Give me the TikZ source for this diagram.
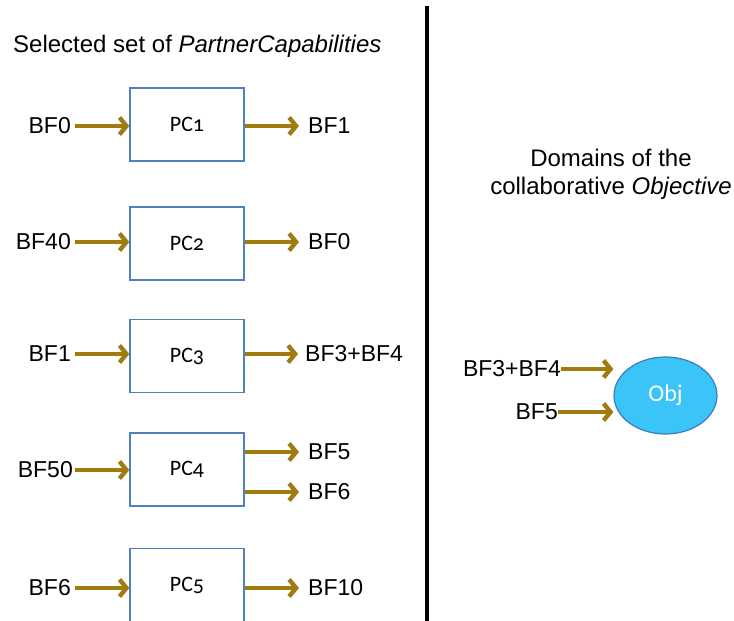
\documentclass[tikz,border=0pt]{standalone}
\usepackage{fontspec}
\setmainfont{Liberation Sans}
\newfontfamily\pcfont[Numbers=OldStyle]{Carlito}
\usetikzlibrary{arrows.meta,calc,shapes.geometric}
\definecolor{arrgold}{RGB}{160,124,14}
\definecolor{boxblue}{RGB}{79,129,189}
\definecolor{objfill}{RGB}{59,196,248}
\definecolor{objline}{RGB}{58,124,190}
\tikzset{
  arr/.style={draw=arrgold, line width=4.4pt, -{Straight Barb[length=7pt,width=17pt]}},
  pcbox/.style={draw=boxblue, line width=1.3pt, minimum width=114pt, minimum height=73pt, inner sep=0pt, font=\pcfont\fontsize{22}{26}\selectfont},
  lbl/.style={inner sep=2pt, font=\fontsize{23}{27}\selectfont},
  head/.style={inner sep=0pt, font=\fontsize{24}{28}\selectfont},
}
\begin{document}
\begin{tikzpicture}[x=1pt,y=-1pt]
\useasboundingbox (0,0) rectangle (734,621);
% headings
\node[head, anchor=west] (h1) at (13,46) {Selected set of \textit{PartnerCapabilities}};
\node[head, align=center] (h2) at (611,174) {Domains of the\\collaborative \textit{Objective}};
% divider
\coordinate (vtop) at (427,6);
\coordinate (vbot) at (427,621);
\draw[line width=3.5pt] (vtop) -- (vbot);
% boxes
\node[pcbox] (pc1) at (187,124.5) {PC1};
\node[pcbox] (pc2) at (187,243.5) {PC2};
\node[pcbox] (pc3) at (187,356) {PC3};
\node[pcbox] (pc4) at (187,469.5) {PC4};
\node[pcbox] (pc5) at (187,585) {PC5};
% inputs
\node[lbl, anchor=east] (i1) at (73,126) {BF0};
\node[lbl, anchor=east] (i2) at (73,242) {BF40};
\node[lbl, anchor=east] (i3) at (73,354) {BF1};
\node[lbl, anchor=east] (i4) at (75,470) {BF50};
\node[lbl, anchor=east] (i5) at (73,588) {BF6};
% outputs
\node[lbl, anchor=west] (o1) at (306,126) {BF1};
\node[lbl, anchor=west] (o2) at (306,242) {BF0};
\node[lbl, anchor=west] (o3) at (303,354) {BF3+BF4};
\node[lbl, anchor=west] (o4a) at (306,452) {BF5};
\node[lbl, anchor=west] (o4b) at (306,492) {BF6};
\node[lbl, anchor=west] (o5) at (306,588) {BF10};
% arrows in
\foreach \n in {1,...,5}{
  \draw[arr] (i\n.east -| 75,0) -- (i\n.east -| pc\n.west);
}
% arrows out
\draw[arr] (pc1.east |- o1.west) -- ($(o1.west)+(-7,0)$);
\draw[arr] (pc2.east |- o2.west) -- ($(o2.west)+(-7,0)$);
\draw[arr] (pc3.east |- o3.west) -- ($(o3.west)+(-5,0)$);
\draw[arr] (pc4.east |- o4a.west) -- ($(o4a.west)+(-7,0)$);
\draw[arr] (pc4.east |- o4b.west) -- ($(o4b.west)+(-7,0)$);
\draw[arr] (pc5.east |- o5.west) -- ($(o5.west)+(-7,0)$);
% objective
\node[draw=objline, fill=objfill, line width=1.2pt, ellipse, minimum width=103pt, minimum height=77pt, inner sep=0pt, text=white, font=\pcfont\fontsize{24}{28}\selectfont] (obj) at (665.5,395.5) {Obj};
\node[lbl, anchor=east, inner sep=0pt] (b34) at (561,369) {BF3+BF4};
\node[lbl, anchor=east, inner sep=0pt] (b5) at (558,412) {BF5};
\draw[arr] (b34.east) -- (b34.east -| obj.west);
\draw[arr] (b5.east) -- (b5.east -| obj.west);
\end{tikzpicture}
\end{document}
